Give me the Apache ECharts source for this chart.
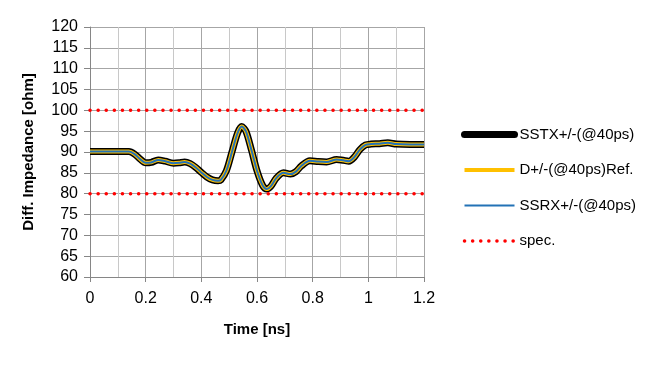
<!DOCTYPE html>
<html>
<head>
<meta charset="utf-8">
<script src="https://cdn.jsdelivr.net/npm/echarts@6/dist/echarts.min.js"></script>
<style>
html,body{margin:0;padding:0;background:#fff;}
#c{width:665px;height:390px;}
</style>
</head>
<body>
<div id="c"></div>
<script>
const seriesNames = ['SSTX+/-(@40ps)', 'D+/-(@40ps)Ref.', 'SSRX+/-(@40ps)', 'spec.'];
const times = [0, 0.14, 0.16, 0.18, 0.20, 0.22, 0.245, 0.27, 0.30, 0.32, 0.34, 0.36, 0.38, 0.40, 0.42, 0.44, 0.46, 0.47, 0.49, 0.51, 0.53, 0.545, 0.56, 0.58, 0.60, 0.62, 0.635, 0.65, 0.67, 0.695, 0.72, 0.74, 0.76, 0.79, 0.82, 0.85, 0.886, 0.91, 0.93, 0.95, 0.97, 0.99, 1.01, 1.04, 1.07, 1.10, 1.15, 1.2];
const sstx = [90.1, 90.1, 89.5, 88.3, 87.4, 87.5, 88.1, 87.8, 87.3, 87.4, 87.6, 87.2, 86.3, 85.1, 84.0, 83.3, 83.1, 83.3, 85.5, 90.0, 94.5, 96.1, 95.0, 90.5, 85.5, 82.0, 81.1, 81.8, 83.8, 85.0, 84.7, 85.3, 86.7, 87.9, 87.7, 87.6, 88.2, 88.0, 87.8, 88.8, 90.6, 91.7, 91.9, 92.0, 92.2, 91.9, 91.8, 91.8];
const dref = sstx.slice();
const ssrx = sstx.slice();
const specTimes = [0, 1.2];
const specUpper = [100, 100];
const specLower = [80, 80];

const pair = (xs, ys) => xs.map((x, i) => [x, ys[i]]);

const colors = ['#000000', '#FFC000', '#2372B6', '#FF0000'];
const widths = [7, 4, 2, 3.5];
const specDash = [0.1, 8];

const chart = echarts.init(document.getElementById('c'));
const specStyle = {color: colors[3], width: widths[3], type: specDash, cap: 'round'};
chart.setOption({
  animation: false,
  textStyle: {fontFamily: 'Liberation Sans, Arial, sans-serif'},
  grid: {left: 90, right: 241, top: 27, bottom: 113},
  xAxis: {
    type: 'value', min: 0, max: 1.2, interval: 0.2,
    name: 'Time [ns]', nameLocation: 'middle', nameGap: 45,
    nameTextStyle: {fontSize: 15, fontWeight: 'bold', color: '#000'},
    axisLine: {show: true, lineStyle: {color: '#868686', width: 1}},
    axisTick: {show: true, length: 5, inside: false, lineStyle: {color: '#868686'}},
    axisLabel: {fontSize: 16, color: '#000', margin: 14, formatter: v => String(+v.toFixed(1))},
    splitLine: {show: true, lineStyle: {color: '#a6a6a6', width: 1}},
    minorTick: {show: false, splitNumber: 2},
    minorSplitLine: {show: true, lineStyle: {color: '#c8c8c8', width: 1}}
  },
  yAxis: {
    type: 'value', min: 60, max: 120, interval: 5,
    name: 'Diff. Impedance [ohm]', nameLocation: 'middle', nameGap: 54,
    nameTextStyle: {fontSize: 15, fontWeight: 'bold', color: '#000'},
    axisLine: {show: true, lineStyle: {color: '#868686', width: 1}},
    axisTick: {show: true, length: 6, lineStyle: {color: '#868686'}},
    axisLabel: {fontSize: 16, color: '#000', margin: 12},
    splitLine: {show: true, lineStyle: {color: '#a6a6a6', width: 1}}
  },
  legend: {
    orient: 'vertical', left: 456, top: 122, itemWidth: 50, itemHeight: 14, itemGap: 20.5,
    itemStyle: {opacity: 0},
    data: seriesNames.map((n, i) => ({
      name: n,
      itemStyle: {opacity: 0},
      lineStyle: i === 3 ? {color: colors[3], width: widths[3], type: specDash, cap: 'round'} : {color: colors[i], width: widths[i], cap: i === 0 ? 'round' : 'butt'}
    })),
    textStyle: {fontSize: 15, color: '#000'}
  },
  series: [
    {name: seriesNames[0], type: 'line', data: pair(times, sstx), smooth: 0.3, symbol: 'none', lineStyle: {color: colors[0], width: widths[0]}, itemStyle: {color: colors[0]}},
    {name: seriesNames[1], type: 'line', data: pair(times, dref), smooth: 0.3, symbol: 'none', lineStyle: {color: colors[1], width: widths[1]}, itemStyle: {color: colors[1]}},
    {name: seriesNames[2], type: 'line', data: pair(times, ssrx), smooth: 0.3, symbol: 'none', lineStyle: {color: colors[2], width: widths[2]}, itemStyle: {color: colors[2]}},
    {name: seriesNames[3], type: 'line', data: pair(specTimes, specUpper), symbol: 'none', lineStyle: specStyle, itemStyle: {color: colors[3]}},
    {name: seriesNames[3], type: 'line', data: pair(specTimes, specLower), symbol: 'none', lineStyle: specStyle, itemStyle: {color: colors[3]}}
  ]
});
</script>
</body>
</html>
